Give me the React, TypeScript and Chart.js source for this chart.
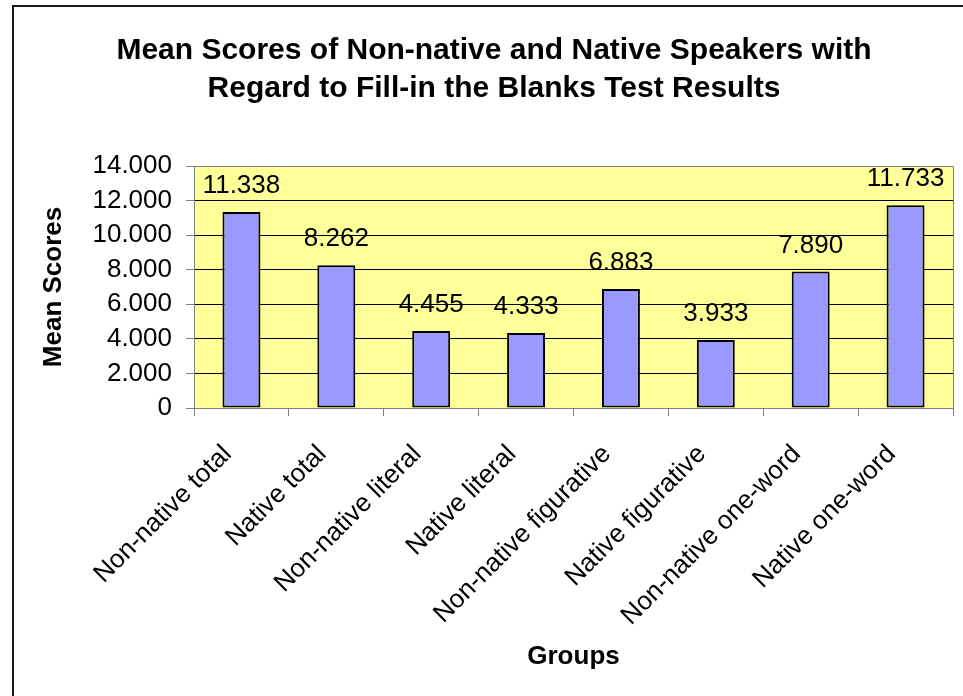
import React, { useEffect, useRef } from "react";
import { Chart, registerables } from "chart.js";

Chart.register(...registerables);

const categories = [
  "Non-native total",
  "Native total",
  "Non-native literal",
  "Native literal",
  "Non-native figurative",
  "Native figurative",
  "Non-native one-word",
  "Native one-word",
];
const meanScores = [11.338, 8.262, 4.455, 4.333, 6.883, 3.933, 7.89, 11.733];
const valueLabels = ["11.338", "8.262", "4.455", "4.333", "6.883", "3.933", "7.890", "11.733"];
const yTickLabels = ["0", "2.000", "4.000", "6.000", "8.000", "10.000", "12.000", "14.000"];
const titleLines = [
  "Mean Scores of Non-native and Native Speakers with",
  "Regard to Fill-in the Blanks Test Results",
];

const FONT = '"Liberation Sans", Arial, Helvetica, sans-serif';

const plotBgPlugin = {
  id: "plotBg",
  beforeDraw(chart: any) {
    const { ctx, chartArea } = chart;
    ctx.save();
    ctx.fillStyle = "#FFFF99";
    ctx.fillRect(chartArea.left, chartArea.top, chartArea.right - chartArea.left, chartArea.bottom - chartArea.top);
    ctx.restore();
  },
  afterDatasetsDraw(chart: any) {
    const { ctx, chartArea } = chart;
    ctx.save();
    ctx.strokeStyle = "#808080";
    ctx.lineWidth = 1;
    ctx.beginPath();
    ctx.moveTo(chartArea.left, chartArea.top + 0.5);
    ctx.lineTo(chartArea.right + 0.5, chartArea.top + 0.5);
    ctx.lineTo(chartArea.right + 0.5, chartArea.bottom);
    ctx.stroke();
    // value labels
    const meta = chart.getDatasetMeta(0);
    ctx.fillStyle = "#000";
    ctx.font = `26px ${FONT}`;
    ctx.textAlign = "center";
    ctx.textBaseline = "alphabetic";
    meta.data.forEach((bar: any, i: number) => {
      ctx.fillText(valueLabels[i], bar.x, bar.y - 19);
    });
    ctx.restore();
  },
};

export default function App() {
  const canvasRef = useRef<HTMLCanvasElement | null>(null);

  useEffect(() => {
    if (!canvasRef.current) return;
    const chart = new Chart(canvasRef.current, {
      type: "bar",
      data: {
        labels: categories,
        datasets: [
          {
            data: meanScores,
            backgroundColor: "#9999FF",
            borderColor: "#000000",
            borderWidth: 2,
            borderSkipped: false,
            categoryPercentage: 1,
            barPercentage: 0.4,
          },
        ],
      },
      options: {
        animation: false,
        responsive: false,
        devicePixelRatio: 1,
        layout: { padding: { left: 35, right: 10, top: 0, bottom: 0 } },
        plugins: {
          legend: { display: false },
          tooltip: { enabled: false },
          title: {
            display: true,
            text: titleLines,
            color: "#000",
            font: { family: FONT, size: 30, weight: "bold", lineHeight: 1.25 },
            padding: { top: 32, bottom: 59 },
          },
        },
        scales: {
          x: {
            afterFit: (scale: any) => {
              scale.height = 288;
            },
            grid: {
              display: true,
              drawOnChartArea: false,
              drawTicks: true,
              tickLength: 8,
              tickColor: "#808080",
              color: "#808080",
              offset: true,
            },
            border: { display: true, color: "#808080", width: 1 },
            ticks: {
              autoSkip: false,
              minRotation: 45,
              maxRotation: 45,
              color: "#000",
              padding: 23,
              labelOffset: -14,
              font: { family: FONT, size: 26 },
            },
            title: {
              display: true,
              text: "Groups",
              color: "#000",
              font: { family: FONT, size: 26, weight: "bold", lineHeight: 1.2 },
              padding: { top: 0, bottom: 24 },
            },
          },
          y: {
            min: 0,
            max: 14,
            afterFit: (scale: any) => {
              scale.width = 159;
            },
            grid: {
              drawOnChartArea: true,
              drawTicks: true,
              tickLength: 8,
              tickColor: "#808080",
              color: (ctx: any) => (ctx.tick && ctx.tick.value === 14 ? "#808080" : "#000000"),
              lineWidth: 1,
            },
            border: { display: true, color: "#808080", width: 1 },
            ticks: {
              stepSize: 2,
              color: "#000",
              padding: 14,
              font: { family: FONT, size: 26 },
              callback: (_v: any, i: number) => yTickLabels[i],
            },
            title: {
              display: true,
              text: "Mean Scores",
              color: "#000",
              font: { family: FONT, size: 26, weight: "bold", lineHeight: 1.2 },
              padding: { top: 3.4, bottom: 0 },
            },
          },
        },
      },
      plugins: [plotBgPlugin],
    });
    return () => chart.destroy();
  }, []);

  return (
    <div style={{ position: "absolute", left: 0, top: 0, width: 963, height: 696, background: "#fff", overflow: "hidden" }}>
      <div
        style={{
          position: "absolute",
          left: 12,
          top: 5,
          width: 1000,
          height: 800,
          borderTop: "2px solid #1a1a1a",
          borderLeft: "2px solid #1a1a1a",
        }}
      />
      <canvas ref={canvasRef} width={963} height={696} style={{ position: "absolute", left: 0, top: 0 }} />
    </div>
  );
}
